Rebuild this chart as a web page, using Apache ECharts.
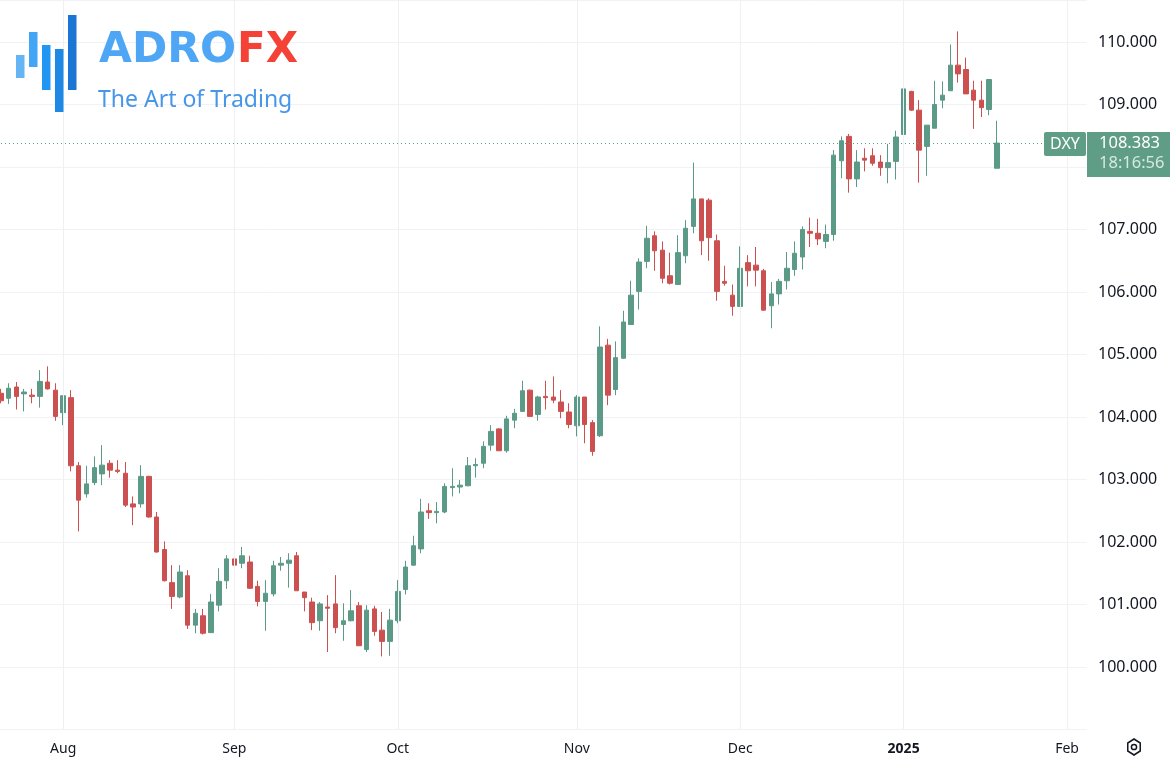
<!DOCTYPE html>
<html><head><meta charset="utf-8">
<script src="https://cdn.jsdelivr.net/npm/echarts@6/dist/echarts.min.js"></script>
<style>html,body{margin:0;padding:0;background:#fff;overflow:hidden;width:1170px;height:766px;position:relative}#c{position:absolute;left:-3px;top:0;width:1173px;height:766px}</style>
</head><body><div id="c"></div><script>
// ---- data (DXY daily candles) ----
const opens = [104.38,104.30,104.48,104.37,104.35,104.33,104.56,104.43,104.07,104.31,
103.22,102.77,102.95,103.09,103.26,103.15,103.10,102.61,102.61,103.05,
102.40,101.88,101.35,101.12,101.46,100.67,100.82,100.55,100.99,101.38,
101.73,101.66,101.68,101.29,101.05,101.17,101.63,101.66,101.78,101.20,
101.04,100.74,100.96,101.01,100.68,100.74,100.98,100.28,100.93,100.59,
100.41,100.74,101.24,101.63,101.89,102.50,102.47,102.48,102.87,102.88,
102.90,103.22,103.26,103.55,103.81,103.46,103.95,104.09,104.43,104.04,
104.33,104.32,104.24,104.08,103.86,104.32,103.91,103.70,105.15,104.44,
104.94,105.48,106.01,106.49,106.90,106.67,106.26,106.12,106.58,107.05,
107.49,107.47,106.82,106.17,105.95,105.77,106.47,106.43,106.34,105.78,
105.97,106.18,106.36,106.56,106.97,106.94,106.81,106.92,108.10,108.49,
107.81,108.14,108.18,108.08,107.99,108.09,108.52,109.21,108.91,108.33,
108.62,109.07,109.22,109.63,109.56,109.23,109.07,108.92,107.98];
const highs = [104.45,104.54,104.56,104.45,104.45,104.75,104.81,104.54,104.34,104.43,
103.28,103.22,103.37,103.55,103.31,103.31,103.28,102.73,103.23,103.06,
102.48,102.01,101.63,101.63,101.55,100.93,100.93,101.17,101.58,101.79,
101.77,101.92,101.78,101.38,101.39,101.70,101.76,101.82,101.84,101.20,
101.11,101.04,101.15,101.47,101.02,101.23,101.04,100.99,100.98,100.88,
100.93,101.39,101.70,102.10,102.69,102.62,102.64,102.94,103.18,102.99,
103.36,103.34,103.61,103.87,103.82,104.02,104.13,104.58,104.44,104.34,
104.58,104.65,104.43,104.22,104.35,104.32,103.95,105.45,105.25,105.21,
105.70,106.18,106.54,107.06,106.97,106.81,106.63,106.91,107.15,108.07,
107.49,107.50,106.92,106.42,106.12,106.73,106.59,106.72,106.37,106.16,
106.21,106.64,106.81,107.05,107.19,107.17,107.08,108.27,108.49,108.53,
108.27,108.30,108.30,108.19,108.37,108.58,109.53,109.22,109.07,108.67,
109.38,109.37,109.96,110.17,109.75,109.38,109.38,109.40,108.74];
const lows = [104.22,104.21,104.12,104.09,104.22,104.15,104.44,103.94,103.87,103.13,
102.17,102.71,102.91,102.91,103.03,103.10,102.56,102.27,102.55,102.39,
101.83,101.37,100.93,101.10,100.61,100.54,100.52,100.55,100.89,101.25,
101.57,101.58,101.25,100.97,100.58,101.13,101.54,101.27,101.22,100.89,
100.59,100.58,100.24,100.54,100.42,100.73,100.34,100.24,100.50,100.17,
100.18,100.70,101.16,101.62,101.82,102.37,102.30,102.46,102.73,102.78,
102.89,103.03,103.18,103.46,103.46,103.43,103.82,104.09,104.01,103.94,
104.12,104.22,103.98,103.82,103.69,103.58,103.38,103.68,104.19,104.35,
104.93,105.48,105.72,106.38,106.34,106.14,106.12,106.12,106.46,106.94,
106.59,106.50,105.86,106.10,105.62,105.77,106.09,106.09,105.70,105.42,
105.80,106.04,106.26,106.36,106.72,106.75,106.70,106.82,107.82,107.59,
107.68,107.93,108.02,107.86,107.74,107.80,108.27,108.90,107.75,107.86,
108.62,108.94,109.22,109.35,109.17,108.61,108.80,108.83,107.98];
const closes = [104.26,104.46,104.33,104.40,104.33,104.57,104.45,104.01,104.34,103.22,
102.67,102.93,103.19,103.23,103.15,103.13,102.59,102.56,103.05,102.40,
101.84,101.38,101.13,101.52,100.67,100.86,100.54,101.04,101.37,101.73,
101.63,101.78,101.26,101.05,101.18,101.62,101.66,101.71,101.22,101.11,
100.71,101.01,100.94,100.63,100.74,100.90,100.34,100.91,100.57,100.41,
100.75,101.21,101.60,101.94,102.48,102.47,102.49,102.89,102.89,102.91,
103.22,103.24,103.53,103.77,103.46,103.97,104.06,104.42,104.01,104.32,
104.31,104.27,104.09,103.88,104.32,103.88,103.45,105.12,104.35,104.95,
105.52,105.95,106.48,106.86,106.66,106.22,106.14,106.63,107.02,107.49,
106.82,106.87,106.01,106.14,105.77,106.38,106.34,106.35,105.71,105.97,
106.17,106.38,106.62,107.00,106.94,106.85,106.92,108.19,108.42,107.81,
108.08,108.11,108.06,107.99,108.07,108.48,109.25,108.91,108.27,108.67,
109.00,109.15,109.63,109.49,109.17,109.07,108.95,109.40,108.383];
const tickIndex  = [8, 30, 51, 74, 95, 116, 137];
const tickLabels = ['Aug','Sep','Oct','Nov','Dec','2025','Feb'];
const symbolName = 'DXY';
const lastPrice = 108.383;
const countdown = '18:16:56';
const holidays = ['2024-12-25','2025-01-01'];

// trading-day categories (calendar, weekdays only), incl. future slots
const categories = [];
(function(){
  const d = new Date(Date.UTC(2024, 6, 22));
  while (categories.length < 140) {
    const wd = d.getUTCDay(); const s = d.toISOString().slice(0,10);
    if (wd !== 0 && wd !== 6 && holidays.indexOf(s) < 0) categories.push(s);
    d.setUTCDate(d.getUTCDate() + 1);
  }
})();

const UP = '#5b9a86', DOWN = '#cc5050', BOX = '#5f9d87';
const FONT = 'Noto Sans';
const OFF = 3; // container is shifted 3px left
const candles = opens.map((o, i) => [o, closes[i], lows[i], highs[i]]);

const chart = echarts.init(document.getElementById('c'), null, {renderer: 'canvas'});
chart.setOption({
  animation: false,
  backgroundColor: '#ffffff',
  grid: {left: 0, right: 83.5, top: 0, bottom: 36.5},
  xAxis: {
    type: 'category', data: categories, boundaryGap: true,
    axisLine: {show: false}, axisTick: {show: false}, splitLine: {show: false},
    axisLabel: {
      interval: (i) => tickIndex.indexOf(i) >= 0,
      formatter: (v, i) => { const k = tickIndex.indexOf(i); if (k < 0) return ''; return tickLabels[k] === '2025' ? '{b|2025}' : tickLabels[k]; },
      color: '#131722', fontSize: 14, fontFamily: FONT, margin: 13,
      rich: {b: {fontWeight: 'bold', fontSize: 14, color: '#131722', fontFamily: FONT}}
    }
  },
  yAxis: {
    type: 'value', position: 'right', min: 99, max: 110.672, interval: 1,
    axisLine: {show: false}, axisTick: {show: false},
    splitLine: {lineStyle: {color: '#f0f2f5', width: 1}},
    axisLabel: {showMinLabel: false, showMaxLabel: false, formatter: v => v.toFixed(3),
      color: '#131722', fontSize: 16, fontFamily: FONT, margin: 11.5, padding: [2, 0, 0, 0]}
  },
  series: [
    {
      type: 'scatter', data: [], z: 1, silent: true,
      markLine: {silent: true, symbol: ['none','none'], label: {show: false}, animation: false,
        lineStyle: {color: '#eef0f3', width: 1, type: 'solid'},
        data: tickIndex.map(i => ({xAxis: categories[i]}))}
    },
    {
      type: 'candlestick', data: candles, z: 3, barWidth: 5,
      itemStyle: {color: UP, color0: DOWN, borderColor: UP, borderColor0: DOWN, borderWidth: 1},
      markLine: {silent: true, symbol: ['none','none'], label: {show: false}, animation: false,
        data: [{yAxis: lastPrice, lineStyle: {color: UP, width: 1, type: [1, 3]}}]}
    }
  ]
});

const py = chart.convertToPixel({yAxisIndex: 0}, lastPrice);
const logoBars = [
  {x: 16, y: 55, h: 23, c: '#64b5f6'},
  {x: 29, y: 32, h: 35, c: '#42a5f5'},
  {x: 42, y: 45, h: 45, c: '#2196f3'},
  {x: 55, y: 49, h: 63, c: '#1e88e5'},
  {x: 68, y: 15, h: 75, c: '#1976d2'}
];
const g = logoBars.map(b => ({type: 'rect', shape: {x: b.x + OFF, y: b.y, width: 8.5, height: b.h}, style: {fill: b.c}, z: 100}));
g.push({type: 'text', x: 99 + OFF, y: 72.5, style: {text: 'ADRO', font: 'bold 42.5px "DejaVu Sans"', fill: '#4ea6f5', textVerticalAlign: 'bottom'}, z: 100});
g.push({type: 'text', x: 237 + OFF, y: 72.5, style: {text: 'FX', font: 'bold 42px "DejaVu Sans"', fill: '#f44336', textVerticalAlign: 'bottom'}, z: 100});
g.push({type: 'text', x: 98 + OFF, y: 100, style: {text: 'The Art of Trading', font: '23px "Noto Sans"', fill: '#4896e8', textVerticalAlign: 'middle'}, z: 100});
// last price labels
g.push({type: 'rect', shape: {x: 1044 + OFF, y: py - 11, width: 42, height: 24, r: 2}, style: {fill: BOX}, z: 100});
g.push({type: 'text', x: 1065 + OFF, y: py + 1, style: {text: symbolName, font: '16px "Noto Sans"', fill: '#ffffff', textAlign: 'center', textVerticalAlign: 'middle'}, z: 101});
g.push({type: 'rect', shape: {x: 1087 + OFF, y: py - 11, width: 83, height: 45}, style: {fill: BOX}, z: 100});
g.push({type: 'text', x: 1099 + OFF, y: py + 0.5, style: {text: lastPrice.toFixed(3), font: '16.5px "Noto Sans"', fill: '#ffffff', textVerticalAlign: 'middle'}, z: 101});
g.push({type: 'text', x: 1099 + OFF, y: py + 20.5, style: {text: countdown, font: '16.5px "Noto Sans"', fill: '#d6e9e1', textVerticalAlign: 'middle'}, z: 101});
// settings icon (bottom right)
(function(){
  const cx = 1134 + OFF, cy = 747, r = 8;
  const pts = [];
  for (let k = 0; k < 6; k++) { const a = Math.PI / 180 * (60 * k - 90); pts.push([cx + r * Math.cos(a) * 0.9, cy + r * Math.sin(a)]); }
  g.push({type: 'polygon', shape: {points: pts}, style: {fill: 'none', stroke: '#131722', lineWidth: 1.5}, z: 100});
  g.push({type: 'circle', shape: {cx: cx, cy: cy, r: 2.6}, style: {fill: 'none', stroke: '#131722', lineWidth: 1.5}, z: 100});
})();
chart.setOption({graphic: g});
</script></body></html>
